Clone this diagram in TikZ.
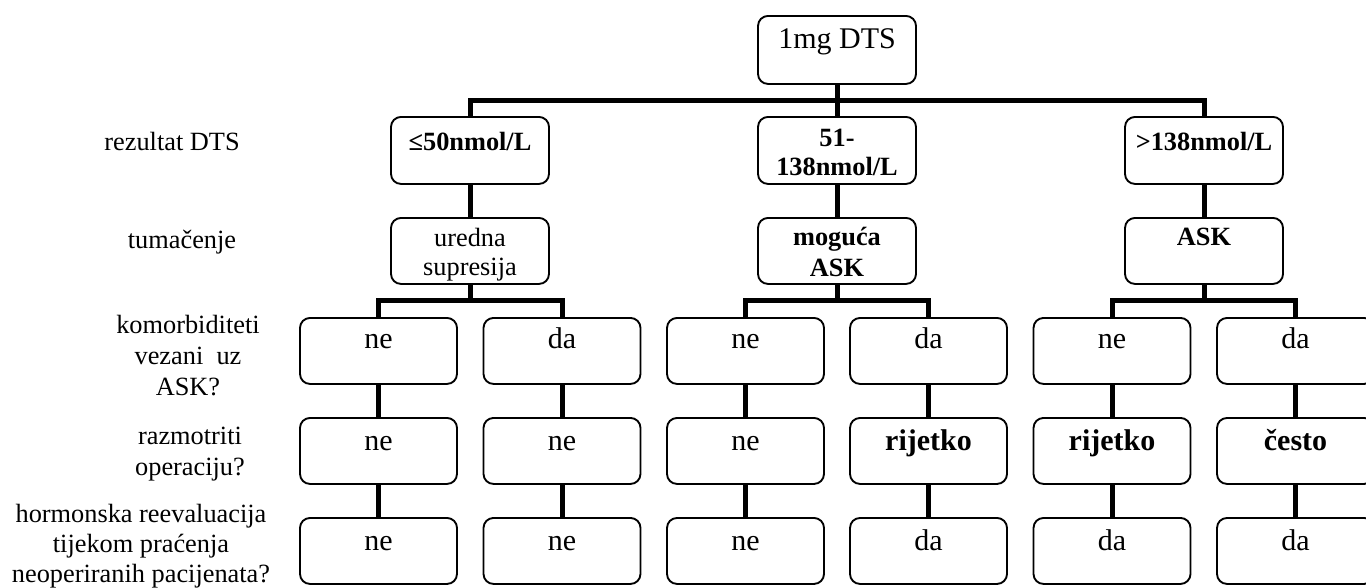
\documentclass[tikz,border=0pt]{standalone}
\usepackage{fontspec}
\setmainfont{Liberation Serif}
\usetikzlibrary{calc}
\begin{document}
\begin{tikzpicture}[x=0.75pt,y=-0.75pt,
  box/.style={draw, line width=1.4pt, rounded corners=7.5pt, inner sep=0pt, minimum width=118.5pt, minimum height=50.25pt, anchor=north},
  rowbox/.style={box, minimum width=117.75pt, minimum height=49.5pt},
  conn/.style={line width=3.75pt, line join=miter},
  txt/.style={inner sep=0pt, anchor=base, align=center},
  big/.style={txt, font=\fontsize{22.5}{25}\selectfont},
  bigb/.style={txt, font=\fontsize{22.5}{25}\selectfont\bfseries},
  mid/.style={txt, font=\fontsize{19.75}{22.5}\selectfont\bfseries},
  midr/.style={txt, font=\fontsize{19.75}{21.75}\selectfont},
  lab/.style={txt, font=\fontsize{19.75}{23}\selectfont},
]
\useasboundingbox (0,0) rectangle (1366,587);
\clip (0,0) rectangle (1366,587);

% top
\node[box, minimum height=51pt] (top) at (837,15) {};
\node[big] (ttop) at ($(top.north)+(0,33)$) {1mg DTS};

% level 2
\node[box] (l2a) at (470,116) {};
\node[box] (l2b) at (837,116) {};
\node[box] (l2c) at (1204,116) {};
\node[mid] (tl2a) at ($(l2a.north)+(0,34)$) {≤50nmol/L};
\node[mid, font=\fontsize{19.75}{21.75}\selectfont\bfseries] (tl2b) at ($(l2b.north)+(0,59)$) {51-\\138nmol/L};
\node[mid] (tl2c) at ($(l2c.north)+(0,34)$) {>138nmol/L};

% level 3
\node[box, minimum height=49.5pt] (l3a) at (470,217) {};
\node[box, minimum height=49.5pt] (l3b) at (837,217) {};
\node[box, minimum height=49.5pt] (l3c) at (1204,217) {};
\node[midr] (tl3a) at ($(l3a.north)+(0,58)$) {uredna\\supresija};
\node[mid, font=\fontsize{19.75}{23.25}\selectfont\bfseries] (tl3b) at ($(l3b.north)+(0,59)$) {moguća\\ASK};
\node[mid] (tl3c) at ($(l3c.north)+(0,28)$) {ASK};

% rows 4-6
\foreach \c/\x in {1/378.5,2/562,3/745.5,4/928.5,5/1112,6/1295.5}{
  \node[rowbox] (r4c\c) at (\x,317) {};
  \node[rowbox] (r5c\c) at (\x,417) {};
  \node[rowbox] (r6c\c) at (\x,517) {};
}
\foreach \c/\t in {1/ne,2/da,3/ne,4/da,5/ne,6/da}{
  \node[big] (t4c\c) at ($(r4c\c.north)+(0,31)$) {\t};
}
\foreach \c/\t in {1/ne,2/ne,3/ne}{
  \node[big] (t5c\c) at ($(r5c\c.north)+(0,33)$) {\t};
}
\node[bigb] (t5c4) at ($(r5c4.north)+(0,33)$) {rijetko};
\node[bigb] (t5c5) at ($(r5c5.north)+(0,33)$) {rijetko};
\node[bigb] (t5c6) at ($(r5c6.north)+(0,33)$) {često};
\foreach \c/\t in {1/ne,2/ne,3/ne,4/da,5/da,6/da}{
  \node[big] (t6c\c) at ($(r6c\c.north)+(0,33)$) {\t};
}

% junctions
\coordinate (j0) at (837,100);
\coordinate (ja) at (470,300);
\coordinate (jb) at (837,300);
\coordinate (jc) at (1204,300);

% connectors
\draw[conn] (top.south) -- (j0);
\draw[conn] (l2a.north) |- (j0) -| (l2c.north);
\draw[conn] (j0) -- (l2b.north);
\foreach \s in {a,b,c}{
  \draw[conn] (l2\s.south) -- (l3\s.north);
  \draw[conn] (l3\s.south) -- (j\s);
}
\draw[conn] (r4c1.north) |- (ja) -| (r4c2.north);
\draw[conn] (r4c3.north) |- (jb) -| (r4c4.north);
\draw[conn] (r4c5.north) |- (jc) -| (r4c6.north);
\foreach \c in {1,...,6}{
  \draw[conn] (r4c\c.south) -- (r5c\c.north);
  \draw[conn] (r5c\c.south) -- (r6c\c.north);
}

% row labels (base = last line)
\node[lab] (L1) at (172,150) {rezultat DTS};
\node[lab] (L2) at (182,248) {tumačenje};
\node[lab, font=\fontsize{19.75}{23.25}\selectfont] (L3) at (188,395) {komorbiditeti\\vezani~ uz\\ASK?};
\node[lab] (L4) at (190,475) {razmotriti\\operaciju?};
\node[lab, font=\fontsize{19.75}{22.5}\selectfont] (L5) at (141,582) {hormonska reevaluacija\\tijekom praćenja\\neoperiranih pacijenata?};
\end{tikzpicture}
\end{document}
